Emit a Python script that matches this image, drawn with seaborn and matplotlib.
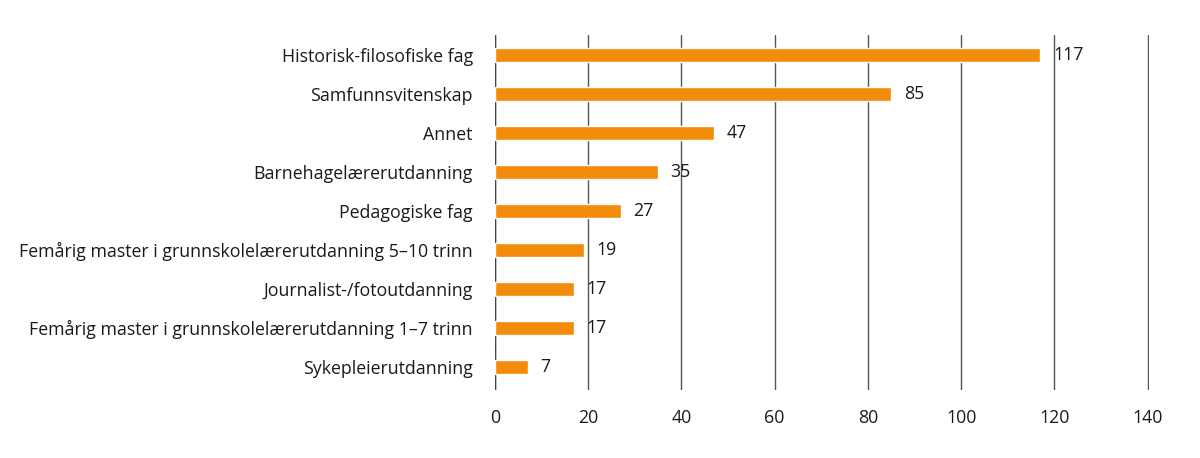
import seaborn as sns
import matplotlib.pyplot as plt
import pandas as pd

sns.set_style("white")
plt.rcParams["font.family"] = ["Open Sans", "DejaVu Sans"]

# ----------- Data -----------
fag = [
    "Historisk-filosofiske fag",
    "Samfunnsvitenskap",
    "Annet",
    "Barnehagelærerutdanning",
    "Pedagogiske fag",
    "Femårig master i grunnskolelærerutdanning 5–10 trinn",
    "Journalist-/fotoutdanning",
    "Femårig master i grunnskolelærerutdanning 1–7 trinn",
    "Sykepleierutdanning",
]
antall = [117, 85, 47, 35, 27, 19, 17, 17, 7]
x_ticks = [0, 20, 40, 60, 80, 100, 120, 140]

df = pd.DataFrame({"Fag": fag, "Antall": antall})

# ----------- Plot -----------
fig = plt.figure(figsize=(12, 4.58), dpi=100)
ax = fig.add_axes([0.4125, 0.1485, 0.545, 0.775])

sns.barplot(data=df, x="Antall", y="Fag", color="#F28C0A", width=0.36,
            saturation=1, ax=ax, zorder=3)

# value labels
ax.bar_label(ax.containers[0], labels=[str(v) for v in antall],
             padding=9, fontsize=12.8, color="#1a1a1a")

ax.set_xlim(0, 140.3)
ax.set_ylim(8.6, -0.5)
ax.set_xticks(x_ticks)
ax.xaxis.grid(True, color="#555555", linewidth=1)
ax.set_axisbelow(True)
for s in ax.spines.values():
    s.set_visible(False)
ax.axvline(0, color="#444444", linewidth=1, zorder=2)

ax.set_xlabel("")
ax.set_ylabel("")
ax.tick_params(axis="both", length=0, labelsize=12.8, colors="#1a1a1a")
ax.tick_params(axis="x", pad=14)
ax.tick_params(axis="y", pad=16)

plt.savefig("out.png", dpi=100)
